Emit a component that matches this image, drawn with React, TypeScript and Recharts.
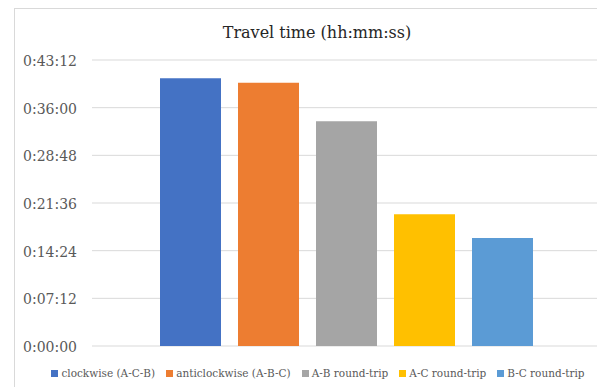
import { BarChart, Bar, XAxis, YAxis, CartesianGrid, Legend } from "recharts";

// travel times (h:mm:ss)
const seriesNames = [
  "clockwise (A-C-B)",
  "anticlockwise (A-B-C)",
  "A-B round-trip",
  "A-C round-trip",
  "B-C round-trip",
];
const seriesTimes = ["0:40:26", "0:39:46", "0:33:56", "0:19:54", "0:16:19"];
const seriesColors = ["#4472C4", "#ED7D31", "#A5A5A5", "#FFC000", "#5B9BD5"];
const yTicks = [0, 432, 864, 1296, 1728, 2160, 2592];

const toSeconds = (t: string) => {
  const [h, m, s] = t.split(":").map(Number);
  return h * 3600 + m * 60 + s;
};

const fmt = (v: number) => {
  const h = Math.floor(v / 3600);
  const m = Math.floor((v % 3600) / 60);
  const s = Math.round(v % 60);
  return `${h}:${String(m).padStart(2, "0")}:${String(s).padStart(2, "0")}`;
};

const row: Record<string, any> = { name: "Travel time" };
seriesNames.forEach((n, i) => {
  row[`s${i}`] = toSeconds(seriesTimes[i]);
});
const chartData = [row];

const FONT = '"DejaVu Serif", serif';

const renderLegend = (props: any) => {
  const items = [...(props.payload || [])].sort(
    (a: any, b: any) => seriesNames.indexOf(a.value) - seriesNames.indexOf(b.value)
  );
  return (
    <div
      style={{
        display: "flex",
        justifyContent: "center",
        gap: 11,
        fontFamily: FONT,
        fontSize: 10.5,
        lineHeight: "16px",
        color: "#595959",
        whiteSpace: "nowrap",
      }}
    >
      {items.map((p: any) => (
        <span key={p.value} style={{ display: "inline-flex", alignItems: "center" }}>
          <span
            style={{
              display: "inline-block",
              width: 7,
              height: 7,
              background: p.color,
              marginRight: 3,
            }}
          />
          {p.value}
        </span>
      ))}
    </div>
  );
};

const App = () => {
  return (
    <div
      style={{
        position: "relative",
        width: 605,
        height: 387,
        margin: "-8px 0 0 -8px",
        overflow: "hidden",
        background: "#fff",
      }}
    >
      <div
        style={{
          position: "absolute",
          left: 14,
          top: 8,
          width: 640,
          height: 420,
          border: "1px solid #d9d9d9",
          boxSizing: "border-box",
        }}
      />
      <div
        style={{
          position: "absolute",
          left: 0,
          top: 23,
          width: 634,
          textAlign: "center",
          fontFamily: FONT,
          fontSize: 16,
          lineHeight: "20px",
          color: "#262626",
        }}
      >
        Travel time (hh:mm:ss)
      </div>
      <BarChart
        width={605}
        height={387}
        data={chartData}
        margin={{ top: 60, right: 2, bottom: 41, left: 0 }}
        barCategoryGap={68}
        barGap={17}
        style={{ position: "absolute", left: 0, top: 0 }}
      >
        <CartesianGrid vertical={false} stroke="#d9d9d9" />
        <XAxis dataKey="name" hide />
        <YAxis
          width={92}
          domain={[0, 2592]}
          ticks={yTicks}
          interval={0}
          tickFormatter={fmt}
          axisLine={false}
          tickLine={false}
          tickSize={0}
          tickMargin={15}
          tick={{ fill: "#595959", fontSize: 14, fontFamily: FONT, dy: 1 }}
        />
        <Legend
          layout="vertical"
          verticalAlign="middle"
          align="center"
          content={renderLegend}
          wrapperStyle={{ top: 365, left: 0, width: 636, bottom: "auto", right: "auto" }}
        />
        {seriesNames.map((n, i) => (
          <Bar
            key={n}
            dataKey={`s${i}`}
            name={n}
            fill={seriesColors[i]}
            isAnimationActive={false}
          />
        ))}
      </BarChart>
    </div>
  );
};

export default App;
